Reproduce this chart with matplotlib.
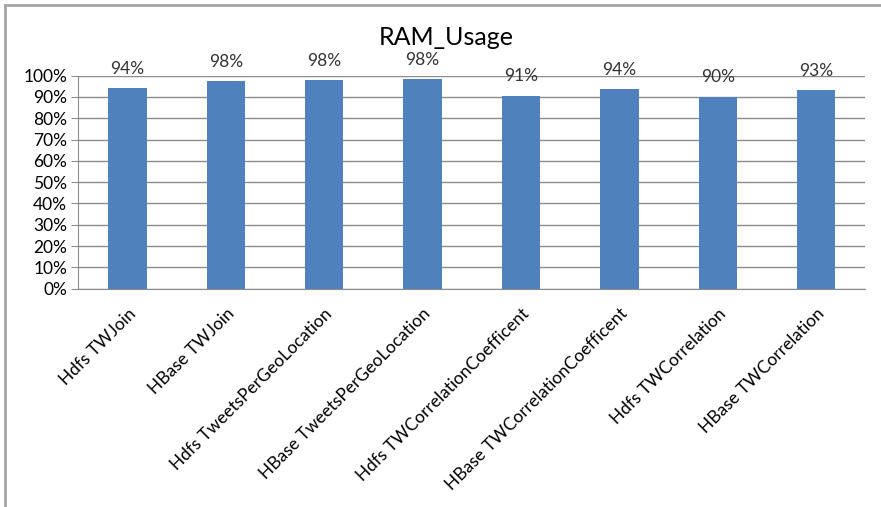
import matplotlib
matplotlib.use("Agg")
import matplotlib.pyplot as plt
from matplotlib.lines import Line2D

categories = ["Hdfs TWJoin", "HBase TWJoin", "Hdfs TweetsPerGeoLocation",
              "HBase TweetsPerGeoLocation", "Hdfs TWCorrelationCoefficent",
              "HBase TWCorrelationCoefficent", "Hdfs TWCorrelation", "HBase TWCorrelation"]
values = [94.2, 97.5, 98.1, 98.4, 90.7, 93.9, 90.2, 93.1]
labels = ["94%", "98%", "98%", "98%", "91%", "94%", "90%", "93%"]
yticks = list(range(0, 101, 10))

plt.rcParams['font.family'] = ['Lato', 'DejaVu Sans']

fig = plt.figure(figsize=(8.81, 5.07), dpi=100)
fig.lines.append(Line2D([4.5/881, 4.5/881], [0, 1 - 4.5/507], transform=fig.transFigure,
                        color='#a6a6a6', linewidth=2))
fig.lines.append(Line2D([4.5/881, 1], [1 - 4.5/507, 1 - 4.5/507], transform=fig.transFigure,
                        color='#a6a6a6', linewidth=2))
ax = fig.add_axes([78.3/881, 0.4306, 787/881, 0.4201])

x = list(range(len(categories)))
ax.bar(x, values, width=0.39, color='#4F81BD', zorder=3)
ax.set_xlim(-0.5, len(categories) - 0.5)
ax.set_ylim(0, 100)
ax.set_yticks(yticks)
ax.set_yticklabels([f"{t}%" for t in yticks], fontsize=12.5)
ax.grid(axis='y', color='#8c8c8c', linewidth=1, zorder=0)
for s in ['top', 'right']:
    ax.spines[s].set_visible(False)
for s in ['left', 'bottom']:
    ax.spines[s].set_color('#8c8c8c')
ax.tick_params(axis='y', length=5, color='#8c8c8c', pad=3)
ax.tick_params(axis='x', length=0, pad=12)
ax.set_xticks(x)
ax.set_xticklabels(categories, rotation=45, ha='right', rotation_mode='anchor', fontsize=12.5)

for xi, v, lab in zip(x, values, labels):
    ax.annotate(lab, (xi, v), xytext=(0, 8), textcoords='offset points',
                ha='center', va='bottom', fontsize=12.5, color='#333333', annotation_clip=False)

fig.text(0.506, 0.927, "RAM_Usage", ha='center', va='center', fontsize=18)

fig.savefig("out.png", dpi=100)
